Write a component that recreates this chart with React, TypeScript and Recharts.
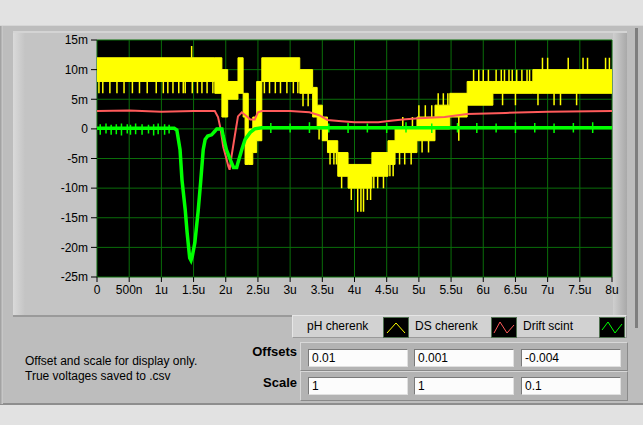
import React from "react";
import { ComposedChart, Area, Line, XAxis, YAxis, CartesianGrid } from "recharts";

// time axis in microseconds, voltages in millivolts
const timeTicks = [0, 0.5, 1, 1.5, 2, 2.5, 3, 3.5, 4, 4.5, 5, 5.5, 6, 6.5, 7, 7.5, 8];
const timeTickLabels = ["0", "500n", "1u", "1.5u", "2u", "2.5u", "3u", "3.5u", "4u", "4.5u", "5u", "5.5u", "6u", "6.5u", "7u", "7.5u", "8u"];
const voltTicks = [-25, -20, -15, -10, -5, 0, 5, 10, 15];
const voltTickLabels = ["-25m", "-20m", "-15m", "-10m", "-5m", "0", "5m", "10m", "15m"];

// pH cherenk: noisy band, read as low/high envelope
const phT = [0, 1.83, 1.94, 2.03, 2.19, 2.27, 2.3, 2.35, 2.42, 2.48, 2.56, 3.15, 3.35, 3.42, 3.5, 3.58, 3.74, 3.9, 4.27, 4.52, 4.63, 4.97, 5.25, 5.48, 5.75, 6.15, 6.77, 8];
const phLo = [8, 6, 2, 5, 6, 2, -6, -6, -4, -2, 8, 6, 2, 0, -2, -4, -8, -10, -8, -6, -4, -2, 0, 2, 4, 6, 6, 6];
const phHi = [12, 12, 10, 8, 12, 6, 6, 0, 2, 8, 12, 10, 7, 4, 2, -2, -4, -6, -4, -2, 0, 2, 4, 6, 8, 8, 10, 10];

// pH cherenk: single-sample spikes outside the band
const spikeT = [0.03, 0.09, 0.2, 0.31, 0.42, 0.55, 0.66, 0.78, 0.92, 1.03, 1.1, 1.18, 1.27, 1.34, 1.37, 1.48, 1.56, 1.63, 1.71, 1.8, 1.47,
  2.6, 2.68, 2.77, 2.85, 2.95, 3.05, 3.12, 3.2, 3.28, 3.45, 3.62, 3.68, 3.72, 3.8, 3.95, 4.2, 4.25, 4.05, 4.1, 4.14, 4.3, 4.36, 4.45,
  4.55, 4.6, 4.7, 4.78, 4.88, 4.75, 4.9, 5.0, 5.1, 5.2, 5.05, 5.15, 5.3, 5.38, 5.45, 5.62, 5.85, 5.93, 6.0, 6.08,
  6.2, 6.28, 6.33, 6.4, 6.45, 6.52, 6.6, 6.68, 6.72, 6.3, 6.5, 6.92, 7.0, 7.32, 7.55, 7.62, 7.9, 7.96, 6.85, 7.1, 7.2, 7.45];
const spikeLo = [6, 6, 6, 6, 6, 6, 6, 6, 6, 6, 6, 6, 6, 6, 6, 6, 6, 6, 6, 6, 12,
  6, 6, 6, 6, 6, 6, 6, 3.8, 3.8, -1.8, -6, -6, -6, -10, -12, -12, -12, -14, -14, -14, -10, -10, -10,
  -8, -8, -6, -6, -6, 0, 0, 2, 2, 2, -4, -4, 4, 4, 4, -2, 8, 8, 8, 8,
  8, 8, 8, 8, 8, 8, 8, 8, 8, 4, 4, 10, 10, 10, 10, 10, 10, 10, 4, 4, 4, 4];
const spikeHi = [8, 8, 8, 8, 8, 8, 8, 8, 8, 8, 8, 8, 8, 8, 8, 8, 8, 8, 8, 8, 14,
  8, 8, 8, 8, 8, 8, 8, 6, 6, 0, -4, -4, -4, -8, -10, -10, -10, -10, -10, -10, -8, -8, -8,
  -6, -6, -4, -4, -4, 2, 2, 4, 4, 4, -2, -2, 6, 6, 6, 2, 10, 10, 10, 10,
  10, 10, 10, 10, 10, 10, 10, 10, 10, 6, 6, 12, 12, 12, 12, 12, 12, 12, 6, 6, 6, 6];

// DS cherenk
const dsT = [0, 0.5, 1, 1.5, 1.83, 1.88, 1.92, 1.96, 2, 2.04, 2.06, 2.09, 2.14, 2.19, 2.25, 2.33, 2.38, 2.45, 2.5, 2.56, 3, 3.3, 3.45, 3.58, 3.8, 4, 4.37, 4.6, 4.75, 5, 5.4, 5.75, 6.35, 7, 8];
const dsV = [3, 3.1, 2.9, 3, 3, 2, 0, -3, -4.6, -6.3, -6.9, -4.6, -1.2, 2.1, 2.8, 2.1, 1.6, 1.6, 2.8, 3, 3, 2.8, 2.3, 1.5, 1.3, 1.1, 1.1, 1.4, 1.6, 1.8, 2, 2.5, 2.7, 2.9, 3];

// Drift scint
const driftT = [0, 1.2, 1.24, 1.29, 1.32, 1.37, 1.4, 1.44, 1.46, 1.48, 1.52, 1.57, 1.61, 1.65, 1.68, 1.72, 1.78, 1.83, 1.86, 1.94, 1.96, 2.01, 2.07, 2.12, 2.17, 2.19, 2.25, 2.3, 2.38, 2.45, 2.56, 8];
const driftV = [0.1, 0.1, -0.2, -3.5, -8.6, -13.6, -17.5, -21.8, -22.2, -21.5, -19.2, -14, -9, -3.5, -1.8, -1.2, -1, -0.4, 0, 0, -1.2, -3.5, -5.2, -6.5, -6.5, -5.7, -3.5, -1.8, -0.6, 0, 0.2, 0.2];

// Drift scint: noise spikes on the baseline
const driftSpikeT = [0.05, 0.14, 0.22, 0.3, 0.38, 0.47, 0.52, 0.6, 0.7, 0.8, 0.88, 0.95, 1.05, 1.12,
  2.7, 3.0, 3.3, 3.6, 3.9, 4.2, 4.5, 4.8, 5.2, 5.6, 5.9, 6.2, 6.5, 6.8, 7.1, 7.4, 7.7];
const driftSpikeLo = [-1, -0.8, -1, -0.9, -1.1, -0.8, -1, -0.9, -1, -0.8, -1.1, -0.9, -1, -0.8,
  -0.7, -0.6, -0.7, -0.6, -0.7, -0.6, -0.7, -0.6, -0.7, -0.6, -0.7, -0.6, -0.7, -0.6, -0.7, -0.6, -0.7];
const driftSpikeHi = [0.8, 0.9, 0.7, 0.8, 0.9, 0.8, 0.7, 0.9, 0.8, 0.7, 0.8, 0.9, 0.8, 0.7,
  1.0, 0.9, 1.1, 0.9, 1.0, 0.9, 1.0, 1.1, 0.9, 1.0, 1.0, 0.9, 1.1, 1.0, 0.9, 1.0, 1.1];

const seriesNames = ["pH cherenk", "DS cherenk", "Drift scint"];
const seriesColors = ["#ffff00", "#ff5a5a", "#00ff00"];
const offsets = ["0.01", "0.001", "-0.004"];
const scales = ["1", "1", "0.1"];

const bandRows = phT.map((t, i) => ({ t, band: [phLo[i], phHi[i]] }));
const spikeRows = spikeT.flatMap((t, i) => [
  { t, v: spikeLo[i] },
  { t, v: spikeHi[i] },
  { t, v: null },
]);
const dsRows = dsT.map((t, i) => ({ t, v: dsV[i] }));
const driftRows = driftT.map((t, i) => ({ t, v: driftV[i] }));
const driftSpikeRows = driftSpikeT.flatMap((t, i) => [
  { t, v: driftSpikeLo[i] },
  { t, v: driftSpikeHi[i] },
  { t, v: null },
]);

const font = "'Liberation Sans', Arial, sans-serif";
const grid = "#0a6e0a";

function Glyph({ color, idx }: { color: string; idx: number }) {
  const pts = idx === 0 ? "3,15 12,5 21,15" : idx === 1 ? "2,15 8,4 15,15 22,7" : "2,12 8,4 15,15 22,6";
  return (
    <svg width={24} height={19} style={{ background: "#000", border: "1px solid #4f6f4f", display: "block" }}>
      <polyline points={pts} fill="none" stroke={color} strokeWidth={1} />
    </svg>
  );
}

function Field({ value, left, top }: { value: string; left: number; top: number }) {
  return (
    <div style={{ position: "absolute", left, top, width: 100, height: 18, background: "#fcfcfc", borderTop: "1px solid #7a7a7a", borderLeft: "1px solid #7a7a7a", borderBottom: "1px solid #e0e0e0", borderRight: "1px solid #e0e0e0", boxSizing: "border-box", fontSize: 12, lineHeight: "17px", paddingLeft: 3 }}>
      {value}
    </div>
  );
}

export default function App() {
  return (
    <div style={{ position: "absolute", left: 0, top: 0, width: 643, height: 425, background: "#e2e2e2", fontFamily: font, overflow: "hidden" }}>
      {/* outer panel */}
      <div style={{ position: "absolute", left: 0, top: 25, width: 643, height: 380, background: "#bdbdbd", borderTop: "1px solid #d6d6d6", borderBottom: "2px solid #8e8e8e", boxSizing: "border-box" }} />
      <div style={{ position: "absolute", left: 0, top: 26, width: 3, height: 378, background: "linear-gradient(90deg,#9a9a9a,#d0d0d0)" }} />
      <div style={{ position: "absolute", left: 635, top: 28, width: 3, height: 300, background: "#7e7e7e" }} />
      {/* graph frame */}
      <div style={{ position: "absolute", left: 13, top: 31, width: 614, height: 286, background: "#c4c4c4", borderTop: "2px solid #d4d4d4", borderBottom: "2px solid #9a9a9a", boxSizing: "border-box" }} />
      <div style={{ position: "absolute", left: 13, top: 33, width: 12, height: 282, background: "linear-gradient(90deg,#dadada,#c4c4c4)" }} />
      <div style={{ position: "absolute", left: 613, top: 33, width: 14, height: 282, background: "linear-gradient(90deg,#cfcfcf,#a9a9a9)" }} />

      <div style={{ position: "absolute", left: 0, top: 0 }}>
        <ComposedChart width={643} height={320} margin={{ top: 40, right: 31, left: 0, bottom: 0 }}>
          <CartesianGrid fill="#000" stroke={grid} strokeWidth={1} horizontalValues={voltTicks} verticalValues={timeTicks} />
          <XAxis
            dataKey="t"
            type="number"
            domain={[0, 8]}
            ticks={timeTicks}
            tickFormatter={(v: number) => timeTickLabels[timeTicks.indexOf(v)]}
            height={43}
            axisLine={false}
            tickSize={5}
            tickMargin={3}
            tickLine={{ stroke: "#000" }}
            tick={{ fill: "#000", fontSize: 12, fontFamily: font }}
            interval={0}
            allowDuplicatedCategory={false}
          />
          <YAxis
            type="number"
            domain={[-25, 15]}
            ticks={voltTicks}
            tickFormatter={(v: number) => voltTickLabels[voltTicks.indexOf(v)]}
            width={97}
            axisLine={false}
            tickSize={6}
            tickMargin={3}
            tickLine={{ stroke: "#000" }}
            tick={{ fill: "#000", fontSize: 12, fontFamily: font }}
            interval={0}
          />
          <Area data={bandRows} dataKey="band" type="stepAfter" stroke={seriesColors[0]} strokeWidth={1} fill={seriesColors[0]} fillOpacity={1} isAnimationActive={false} dot={false} activeDot={false} />
          <Line data={spikeRows} dataKey="v" type="linear" stroke={seriesColors[0]} strokeWidth={1.5} dot={false} activeDot={false} isAnimationActive={false} />
          <Line data={dsRows} dataKey="v" type="linear" stroke={seriesColors[1]} strokeWidth={2} dot={false} activeDot={false} isAnimationActive={false} />
          <Line data={driftRows} dataKey="v" type="linear" stroke={seriesColors[2]} strokeWidth={3.5} dot={false} activeDot={false} isAnimationActive={false} />
          <Line data={driftSpikeRows} dataKey="v" type="linear" stroke={seriesColors[2]} strokeWidth={1.5} dot={false} activeDot={false} isAnimationActive={false} />
        </ComposedChart>
      </div>

      {/* plot legend */}
      <div style={{ position: "absolute", left: 292, top: 315, width: 335, height: 23, background: "#d2d2d2", borderTop: "1px solid #e6e6e6", borderLeft: "1px solid #e6e6e6", borderBottom: "1px solid #9a9a9a", borderRight: "1px solid #9a9a9a", boxSizing: "border-box" }} />
      {seriesNames.map((name, i) => (
        <React.Fragment key={name}>
          <div style={{ position: "absolute", left: [307, 415, 523][i], top: 318, fontSize: 12, lineHeight: "17px", color: "#000" }}>{name}</div>
          <div style={{ position: "absolute", left: [383, 491, 599][i], top: 317 }}>
            <Glyph color={seriesColors[i]} idx={i} />
          </div>
        </React.Fragment>
      ))}

      {/* offsets and scale */}
      <div style={{ position: "absolute", left: 300, top: 342, width: 328, height: 29, background: "#b3b3b3", borderTop: "1px solid #d8d8d8", borderLeft: "1px solid #d8d8d8", borderBottom: "1px solid #8a8a8a", borderRight: "1px solid #8a8a8a", boxSizing: "border-box" }} />
      <div style={{ position: "absolute", left: 300, top: 371, width: 328, height: 30, background: "#b3b3b3", borderTop: "1px solid #d8d8d8", borderLeft: "1px solid #d8d8d8", borderBottom: "1px solid #8a8a8a", borderRight: "1px solid #8a8a8a", boxSizing: "border-box" }} />
      {offsets.map((v, i) => (
        <Field key={"o" + i} value={v} left={[308, 414, 521][i]} top={349} />
      ))}
      {scales.map((v, i) => (
        <Field key={"s" + i} value={v} left={[308, 414, 521][i]} top={377} />
      ))}
      <div style={{ position: "absolute", right: 643 - 297, top: 344, fontSize: 13, fontWeight: "bold", color: "#000" }}>Offsets</div>
      <div style={{ position: "absolute", right: 643 - 297, top: 375, fontSize: 13, fontWeight: "bold", color: "#000" }}>Scale</div>

      <div style={{ position: "absolute", left: 25, top: 354, fontSize: 12, lineHeight: "15px", color: "#000" }}>
        Offset and scale for display only.
        <br />
        True voltages saved to .csv
      </div>
    </div>
  );
}
